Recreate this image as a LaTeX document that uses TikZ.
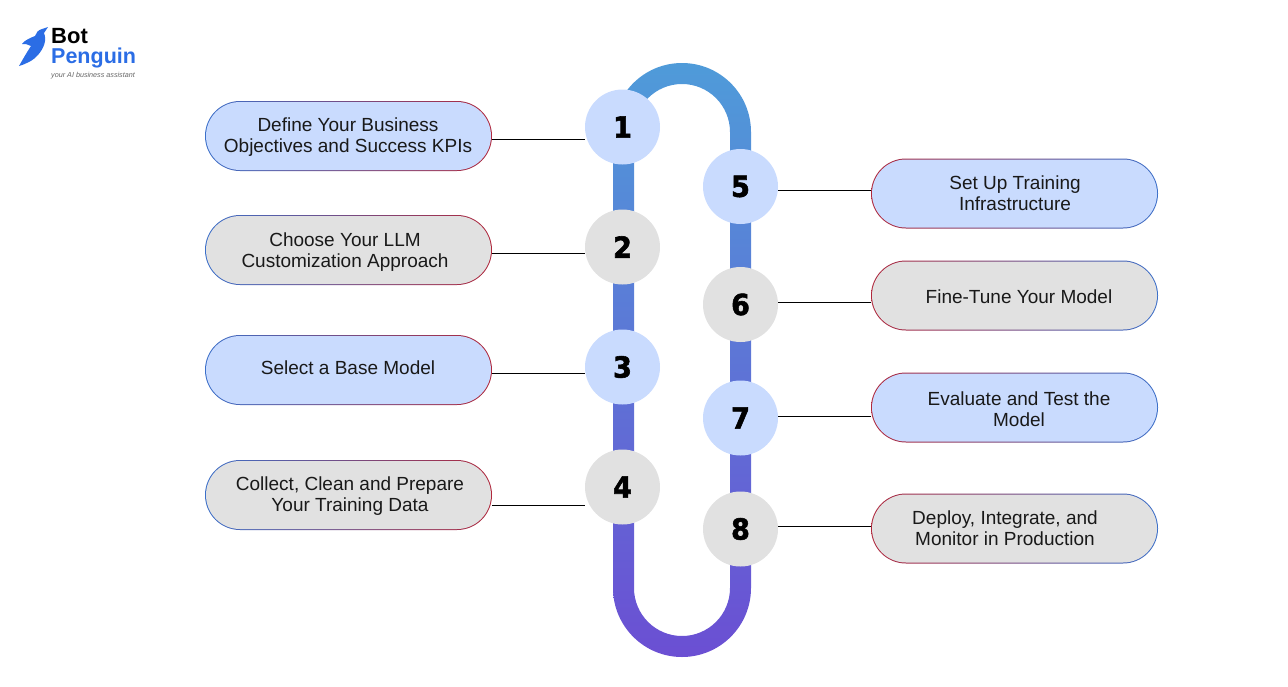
\documentclass[tikz,border=0pt]{standalone}
\usepackage{fontspec}
\setmainfont{Liberation Sans}
\newfontfamily\digitfont[FakeBold=2,FakeStretch=.93]{DejaVu Sans Bold}
\usetikzlibrary{shapes.misc}
\definecolor{PaleBlue}{HTML}{C9DBFE}
\definecolor{PaleGray}{HTML}{E1E1E1}
\definecolor{TubeTop}{HTML}{4F9BD9}
\definecolor{TubeBottom}{HTML}{6B4FD3}
\definecolor{EdgeBlue}{HTML}{3B6FC9}
\definecolor{EdgeRed}{HTML}{B0283C}
\definecolor{LogoBlue}{HTML}{2B6DE5}
\tikzset{
  pillrim/.style={rounded rectangle,minimum width=287pt,minimum height=70pt,inner sep=0pt},
  pillface/.style={rounded rectangle,minimum width=285pt,minimum height=68pt,inner sep=0pt},
  pilltext/.style={align=center,font=\fontsize{19}{21}\selectfont,text=black!90},
  stepdot/.style={circle,minimum size=75pt,inner sep=0pt,font=\digitfont\fontsize{29}{29}\selectfont}
}
\begin{document}
\begin{tikzpicture}[x=1pt,y=1pt,yscale=-1]
\useasboundingbox (0,0) rectangle (1288,686);

% logo
\fill[LogoBlue] (48,27) -- (42,29) .. controls (38,30) and (36,33) .. (35,36)
  .. controls (30,38) and (25,40) .. (22,44) .. controls (25,44) and (28,44) .. (31,46)
  .. controls (27,52) and (23,59) .. (19,66) .. controls (26,64) and (34,60) .. (38,55)
  .. controls (44,48) and (47,40) .. (44,33) -- cycle;
\node[anchor=west,inner sep=0pt,font=\bfseries\fontsize{22}{22}\selectfont] (bot) at (51,36) {Bot};
\node[anchor=west,inner sep=0pt,font=\bfseries\fontsize{21.5}{22}\selectfont,text=LogoBlue] (penguin) at (51,58) {Penguin};
\node[anchor=west,inner sep=0pt,font=\itshape\fontsize{7.2}{8}\selectfont,text=black!60] (tagline) at (51,76) {your AI business assistant};

% tube
\shade[even odd rule,top color=TubeTop,bottom color=TubeBottom]
  (613,132) arc (180:360:69) -- (751,588) arc (0:180:69) -- cycle
  (634,132) arc (180:360:48) -- (730,588) arc (0:180:48) -- cycle;

% left column
\foreach \n/\py/\cy/\ly/\tx/\ty/\fc/\lab in {
  1/136/127/139/348/137/PaleBlue/{Define Your Business\\Objectives and Success KPIs},
  2/250/247/253/345/252/PaleGray/{Choose Your LLM\\Customization Approach},
  3/370/367/373/348/368/PaleBlue/{Select a Base Model},
  4/495/487/505/350/496/PaleGray/{Collect, Clean and Prepare\\Your Training Data}}{
  \node[pillrim,left color=EdgeBlue,right color=EdgeRed] (rim\n) at (348.5,\py) {};
  \node[pillface,fill=\fc] (face\n) at (rim\n) {};
  \node[pilltext] (text\n) at (\tx,\ty) {\lab};
  \node[stepdot,fill=\fc] (dot\n) at (622.5,\cy) {\n};
  \draw[line width=.9pt] (rim\n.east |- 0,\ly) -- (dot\n.west |- 0,\ly);
}

% right column
\foreach \n/\py/\cy/\ly/\tx/\ty/\fc/\lab in {
  5/193.5/186.5/190/1015/193.5/PaleBlue/{Set Up Training\\Infrastructure},
  6/295.5/304.5/302/1019/297/PaleGray/{Fine-Tune Your Model},
  7/407.5/418/416/1019/409.5/PaleBlue/{Evaluate and Test the\\Model},
  8/528.5/529/526/1005/528.5/PaleGray/{Deploy, Integrate, and\\Monitor in Production}}{
  \node[pillrim,left color=EdgeRed,right color=EdgeBlue] (rim\n) at (1014.5,\py) {};
  \node[pillface,fill=\fc] (face\n) at (rim\n) {};
  \node[pilltext] (text\n) at (\tx,\ty) {\lab};
  \node[stepdot,fill=\fc] (dot\n) at (740.5,\cy) {\n};
  \draw[line width=.9pt] (dot\n.east |- 0,\ly) -- (rim\n.west |- 0,\ly);
}
\end{tikzpicture}
\end{document}
